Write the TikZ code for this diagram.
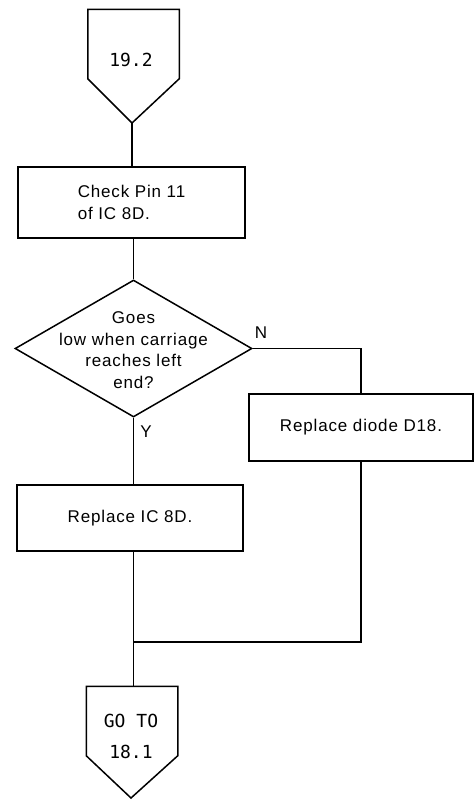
\documentclass[tikz,border=0pt]{standalone}
\usepackage{fontspec}
\setmainfont[LetterSpace=5]{Liberation Sans}
\newfontfamily\numfont{DejaVu Sans Mono}
\usetikzlibrary{positioning,calc,shapes.geometric}

\tikzset{
  txt/.style={font=\fontsize{17}{21.5}\selectfont, align=center, inner sep=0pt},
  numtxt/.style={font=\numfont\fontsize{18}{22}\selectfont, inner sep=0pt, anchor=base},
  box/.style={draw, txt, minimum width=#1, minimum height=67pt},
  frame/.style={inner sep=0pt, minimum width=90pt, minimum height=68pt}
}

\begin{document}
\begin{tikzpicture}[x=1pt, y=-1pt, line width=1.5pt]
			\useasboundingbox (0,0) rectangle (475,804);
			% entry and exit
			\node[frame] (start) at (133.5,44) {};
			\coordinate (start tip) at (132,123);
			\draw (start.north west) -- (start.north east) -- (start.south east) -- (start tip) -- (start.south west) -- cycle;
			\node[numtxt] (startnum) at (131,66) {19.2};
			\node[frame] (goto) at (132,721) {};
			\coordinate (goto tip) at (131,798);
			\draw (goto.north west) -- (goto.north east) -- (goto.south east) -- (goto tip) -- (goto.south west) -- cycle;
			\node[numtxt] (gotoa) at (131,727) {GO TO};
			\node[numtxt] (gotob) at (131,758) {18.1};
			% steps
			\node[box=227pt, minimum height=71pt, align=left] (check) at (131.5,202.5) {Check Pin 11\\of IC 8D.};
			\node[draw, diamond, minimum width=237pt, minimum height=137pt, inner sep=0pt] (goes) at (133.5,348.5) {};
			\node[txt] (goestxt) at (133.5,350) {Goes\\low when carriage\\reaches left\\end?};
			\node[box=224pt] (d18) at (361,427.5) {Replace diode D18.};
			\node[box=226pt, minimum height=66pt] (replace) at (130,518) {Replace IC 8D.};
			\coordinate (join) at (133,642);
			% connectors
			\draw (start tip) -- (start tip |- check.north);
			\draw (goes.north |- check.south) -- (goes.north);
			\draw (goes.east) -| (d18.north);
			\node[txt, anchor=base] (nlabel) at (261,338) {N};
			\draw (goes.south) -- (goes.south |- replace.north);
			\node[txt, anchor=base] (ylabel) at (146,437) {Y};
			\draw (goes.south |- replace.south) -- (goes.south |- goto.north);
			\draw (d18.south) |- (join);
\end{tikzpicture}
\end{document}
